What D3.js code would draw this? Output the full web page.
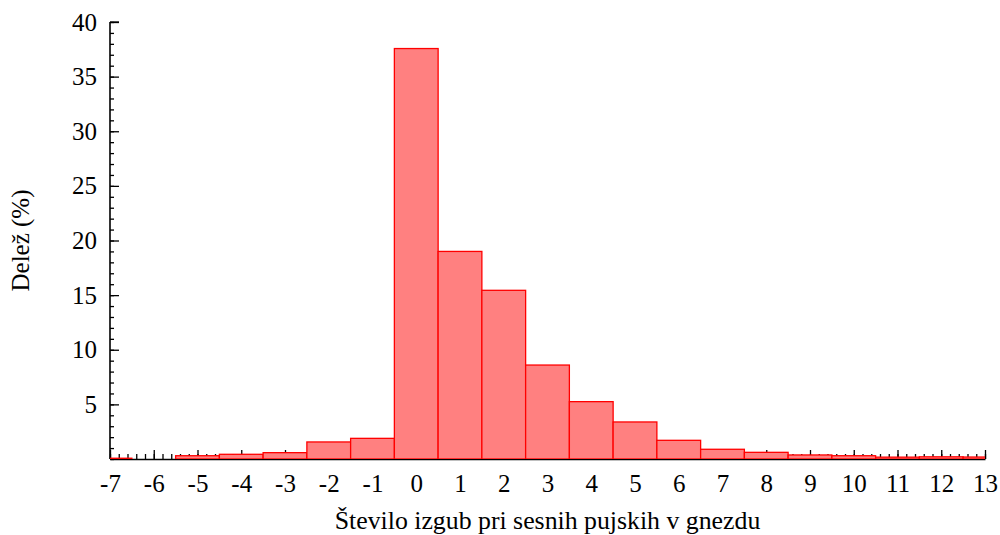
<!DOCTYPE html>
<html><head><meta charset="utf-8">
<script src="https://cdn.jsdelivr.net/npm/d3@7"></script>
<style>
body{margin:0;background:#fff;}
svg text{font-family:"Liberation Serif","Times New Roman",Times,"DejaVu Serif",serif !important;}
</style></head>
<body><svg id="c" width="1000" height="535"></svg>
<script>
const categories = [-7,-6,-5,-4,-3,-2,-1,0,1,2,3,4,5,6,7,8,9,10,11,12,13];
const shares = [0.07,0,0.3,0.43,0.58,1.56,1.89,37.57,19.0,15.44,8.6,5.25,3.39,1.71,0.89,0.61,0.37,0.3,0.17,0.2,0.18];
const xTicks = d3.range(-7,14,1);
const yTicks = [5,10,15,20,25,30,35,40];
const xLabel = "Število izgub pri sesnih pujskih v gnezdu";
const yLabel = "Delež (%)";

const FONT = '"Liberation Serif","Times New Roman",Times,serif';
const svg = d3.select("#c");
const L=110,R=985,T=22,B=459;
const x = d3.scaleLinear().domain([-7,13]).range([L,R]);
const y = d3.scaleLinear().domain([0,40]).range([B,T]);

svg.append("defs").append("clipPath").attr("id","clip")
  .append("rect").attr("x",L).attr("y",T-5).attr("width",R-L).attr("height",B-T+5);

// minor ticks
svg.append("g").attr("transform",`translate(0,${B})`)
  .call(d3.axisBottom(x).tickValues(d3.range(-7,13.001,0.2)).tickSize(-5).tickSizeOuter(0).tickFormat(""))
  .call(g=>g.select(".domain").remove())
  .call(g=>g.selectAll("line").attr("stroke","#000").attr("stroke-width",1.3));
svg.append("g").attr("transform",`translate(${L},0)`)
  .call(d3.axisLeft(y).tickValues(d3.range(0,41,1)).tickSize(-4).tickSizeOuter(0).tickFormat(""))
  .call(g=>g.select(".domain").remove())
  .call(g=>g.selectAll("line").attr("stroke","#000").attr("stroke-width",1.3));

// major
const xa = svg.append("g").attr("transform",`translate(0,${B})`)
  .call(d3.axisBottom(x).tickValues(xTicks).tickSize(-9).tickSizeOuter(0).tickPadding(15).tickFormat(d=>d));
const ya = svg.append("g").attr("transform",`translate(${L},0)`)
  .call(d3.axisLeft(y).tickValues(yTicks).tickSize(-9).tickSizeOuter(0).tickPadding(13).tickFormat(d=>d));
[xa,ya].forEach(g=>{
  g.attr("font-family",FONT).attr("font-size",25);
  g.selectAll("line").attr("stroke","#000").attr("stroke-width",1.3);
  g.select(".domain").attr("stroke","#000").attr("stroke-width",1.6);
  g.selectAll("text").attr("fill","#000");
});
ya.select(".domain").remove();
svg.append("line").attr("x1",L).attr("x2",L).attr("y1",T).attr("y2",B).attr("stroke","#000").attr("stroke-width",1.6);
svg.append("line").attr("x1",L).attr("x2",L+9).attr("y1",T).attr("y2",T).attr("stroke","#000").attr("stroke-width",1.3);

// bars
svg.append("g").attr("clip-path","url(#clip)")
  .selectAll("rect").data(categories.map((c,i)=>({c,v:shares[i]})).filter(d=>d.v>0))
  .join("rect")
  .attr("x",d=>x(d.c-0.5)).attr("width",d=>x(d.c+0.5)-x(d.c-0.5))
  .attr("y",d=>y(d.v)).attr("height",d=>B-y(d.v))
  .attr("fill","#ff8080").attr("stroke","#ff0000").attr("stroke-width",1.3);

svg.append("text").attr("x",(L+R)/2).attr("y",529).attr("text-anchor","middle")
  .attr("font-family",FONT).attr("font-size",25.8).text(xLabel);
svg.append("text").attr("transform",`translate(29,${(T+B)/2}) rotate(-90)`).attr("text-anchor","middle")
  .attr("font-family",FONT).attr("font-size",25).text(yLabel);
</script></body></html>
